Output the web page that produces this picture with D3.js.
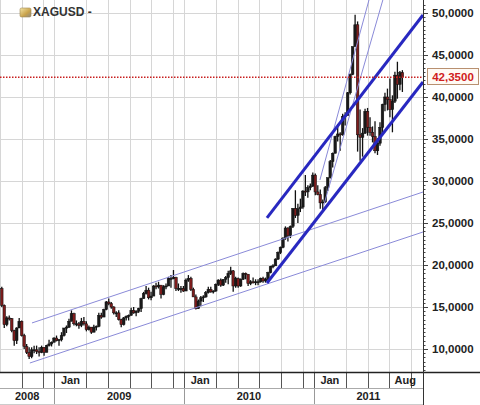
<!DOCTYPE html>
<html>
<head>
<meta charset="utf-8">
<script src="https://cdn.jsdelivr.net/npm/d3@7"></script>
<style>
  body { margin: 0; background: #fff; }
  text { font-family: Arial, 'Liberation Sans', sans-serif; font-weight: bold; }
</style>
</head>
<body>
<div id="chart"></div>
<script>
// weekly bars, first week starts Mon 4 Aug 2008
const firstWeek = new Date(2008, 7, 4);
const startOpen = 17.2;

const weekClose = [
  15.2, 12.9, 13.7, 13.6, 12.2, 11.0, 12.5, 13.3, 11.6, 10.3, 9.6, 9.1, 9.9, 9.9, 9.7, 9.6, 10.2, 9.6, 10.4, 10.6, 10.8, 11.3,
  11.0, 11.1, 11.6, 12.5, 12.6, 13.3, 14.2, 13.0, 13.0, 12.8, 13.3, 13.0, 12.3, 12.6, 12.0, 12.6, 12.7, 14.0, 13.8, 14.7,
  15.6, 15.4, 15.0, 14.3, 14.3, 13.5, 12.9, 13.7, 13.9, 14.0, 14.6, 14.3, 14.5, 14.8, 16.0, 16.6, 17.0, 16.1, 16.3, 17.5,
  17.4, 17.6, 16.5, 17.4, 17.5, 18.4, 18.4, 18.5, 17.2, 17.2, 17.2, 16.9,
  18.2, 18.4, 17.1, 16.2, 14.8, 15.7, 16.1, 16.2, 16.7, 17.1, 16.8, 16.9, 17.7, 18.2, 17.6, 18.3, 18.5, 19.0, 19.3, 17.5,
  18.4, 17.5, 18.3, 19.0, 18.9, 17.8, 18.0, 17.9, 18.0, 18.0, 18.4, 18.1, 18.3, 19.1, 19.8, 19.9, 20.7, 21.5, 22.1, 23.2,
  24.4, 23.5, 24.6, 26.7, 25.9, 26.7, 26.9, 28.8, 28.7, 29.2, 29.4, 30.7,
  28.7, 28.4, 27.4, 27.5, 29.2, 30.4, 32.3, 33.3, 35.3, 35.6, 35.5, 37.7, 37.8, 40.5, 42.7, 46.0, 48.6, 35.5, 35.2, 35.7,
  38.3, 36.4, 35.8, 35.3, 33.6, 34.5, 36.4, 39.1, 40.0, 39.7, 38.5, 39.5, 42.6, 41.5, 42.9, 42.35
];
const weekHigh = [
  17.4, 15.3, 13.9, 14.0, 13.7, 12.3, 12.6, 13.7, 13.4, 11.8, 10.6, 10.2, 10.2, 10.4, 10.4, 10.2, 10.4, 10.2, 10.5, 11.1, 10.9, 11.4,
  11.6, 11.2, 12.0, 12.5, 12.8, 13.6, 14.6, 14.3, 13.4, 13.2, 13.7, 13.8, 13.3, 12.8, 12.6, 12.9, 12.8, 14.3, 14.3, 14.8,
  15.7, 16.0, 15.6, 15.1, 14.5, 14.6, 13.6, 13.8, 14.0, 14.1, 14.9, 15.0, 14.6, 14.9, 16.1, 16.8, 17.5, 17.3, 16.8, 17.6,
  17.9, 18.0, 17.6, 17.6, 17.8, 18.6, 18.8, 19.4, 18.6, 17.8, 17.5, 17.5,
  18.4, 18.8, 18.6, 17.3, 16.5, 15.9, 16.3, 16.4, 16.9, 17.4, 17.4, 17.0, 17.8, 18.3, 18.4, 18.3, 18.7, 19.3, 19.8, 19.4,
  18.6, 18.5, 18.4, 19.1, 19.1, 18.9, 18.2, 18.5, 18.3, 18.3, 18.5, 18.6, 18.5, 19.2, 19.9, 20.1, 20.8, 21.6, 22.2, 23.3,
  24.6, 24.5, 24.7, 26.8, 28.9, 27.3, 27.9, 28.9, 30.7, 29.5, 29.7, 31.0,
  30.9, 29.5, 29.0, 27.8, 29.4, 30.4, 32.5, 33.4, 35.4, 36.8, 35.8, 38.0, 38.2, 40.6, 42.8, 46.0, 49.8, 49.0, 38.5, 36.3,
  38.6, 38.7, 37.6, 36.5, 37.1, 35.1, 37.0, 39.2, 40.5, 41.0, 42.2, 40.2, 43.0, 44.2, 43.1, 43.2
];
const weekLow = [
  15.0, 12.5, 12.7, 13.4, 12.0, 10.4, 10.6, 12.5, 11.5, 10.0, 9.4, 8.8, 8.9, 9.5, 9.4, 9.1, 9.5, 9.2, 9.6, 10.3, 10.3, 10.8,
  10.9, 10.4, 10.9, 11.5, 11.9, 12.5, 13.3, 12.8, 12.7, 12.4, 12.6, 12.8, 12.1, 12.2, 11.8, 12.0, 12.2, 12.6, 13.6, 13.8,
  14.6, 15.2, 14.8, 14.1, 13.8, 13.4, 12.6, 12.8, 13.4, 13.4, 14.0, 14.2, 13.9, 14.3, 14.4, 16.0, 16.5, 15.9, 15.8, 16.3,
  17.1, 17.2, 16.0, 16.4, 17.1, 17.5, 17.3, 18.3, 16.9, 16.9, 16.7, 16.8,
  16.9, 18.0, 16.9, 16.2, 14.7, 14.8, 15.1, 15.6, 16.1, 16.6, 16.7, 16.6, 16.8, 17.5, 17.4, 17.5, 17.9, 17.7, 18.8, 16.8,
  17.3, 17.3, 17.4, 18.2, 18.3, 17.5, 17.6, 17.8, 17.6, 17.6, 17.9, 17.9, 17.9, 18.2, 19.0, 19.6, 19.9, 20.6, 21.3, 22.0,
  23.0, 22.8, 23.2, 24.4, 25.6, 25.0, 26.3, 26.7, 28.2, 28.0, 28.9, 29.3,
  28.3, 28.3, 26.7, 26.4, 27.4, 28.8, 30.3, 31.6, 33.3, 34.7, 33.6, 35.4, 36.6, 37.8, 40.3, 42.6, 46.0, 33.5, 32.4, 32.9,
  35.6, 35.4, 35.4, 34.6, 33.3, 33.1, 34.2, 35.6, 38.3, 38.4, 37.6, 35.8, 39.3, 39.8, 40.8, 40.6
];

const lastPrice = 42.35;
const yTicks = [10, 15, 20, 25, 30, 35, 40, 45, 50];
const gridMonths = [0, 3, 5, 7, 9, 11];
const monthLabelDates = ['2009-01-01', '2010-01-01', '2011-01-01', '2011-08-01'];
const monthLabels = ['Jan', 'Jan', 'Jan', 'Aug'];
const yearLabels = ['2008', '2009', '2010', '2011'];

// trend lines: [start date, start price, end date, end price]
const thinChannel = [
  ['2008-10-24', 8.33, '2011-11-04', 23.93],
  ['2008-10-30', 13.1, '2011-11-04', 28.69]
];
const thickChannel = [
  ['2010-08-22', 17.86, '2011-11-04', 41.79],
  ['2010-08-22', 25.6, '2011-11-04', 49.76]
];
const steepLines = [
  ['2011-01-18', 30.12, '2011-06-05', 51.55],
  ['2011-01-29', 27.14, '2011-07-14', 51.55]
];

const width = 480;
const height = 405;
const plotW = 423;
const plotH = 372;

const parse = d3.timeParse('%Y-%m-%d');
const fmt = d3.format(',.4f');

const x = d3.scaleTime()
    .domain([new Date(2008, 7, 1), new Date(2011, 10, 4)])
    .range([0, plotW]);
const y = d3.scaleLinear()
    .domain([7.26, 51.55])
    .range([plotH, 0]);

const svg = d3.select('#chart')
    .append('svg')
    .attr('width', width)
    .attr('height', height);

svg.append('defs').append('clipPath')
    .attr('id', 'plot-clip')
    .append('rect')
    .attr('width', plotW)
    .attr('height', plotH);

// grid
const gridDates = d3.timeMonth.range(x.domain()[0], x.domain()[1])
    .filter((d) => gridMonths.includes(d.getMonth()));

svg.append('g')
    .selectAll('line')
    .data(gridDates)
    .enter()
    .append('line')
    .attr('x1', (d) => Math.round(x(d)) + 0.5)
    .attr('x2', (d) => Math.round(x(d)) + 0.5)
    .attr('y1', 0)
    .attr('y2', plotH)
    .attr('stroke', '#d6d6d6');

svg.append('g')
    .selectAll('line')
    .data(yTicks)
    .enter()
    .append('line')
    .attr('x1', 0)
    .attr('x2', plotW)
    .attr('y1', (d) => Math.round(y(d)) + 0.5)
    .attr('y2', (d) => Math.round(y(d)) + 0.5)
    .attr('stroke', '#d6d6d6');

// title
const icon = svg.append('defs').append('linearGradient')
    .attr('id', 'coin')
    .attr('x1', 0).attr('y1', 0).attr('x2', 1).attr('y2', 1);
icon.append('stop').attr('offset', '0%').attr('stop-color', '#f4e6a8');
icon.append('stop').attr('offset', '60%').attr('stop-color', '#c9a24a');
icon.append('stop').attr('offset', '100%').attr('stop-color', '#8a8a8a');

svg.append('rect')
    .attr('x', 20)
    .attr('y', 8)
    .attr('width', 11)
    .attr('height', 9)
    .attr('rx', 1.5)
    .attr('fill', 'url(#coin)')
    .attr('stroke', '#a08850')
    .attr('stroke-width', 0.6);

svg.append('text')
    .attr('x', 33)
    .attr('y', 16)
    .attr('font-size', 12)
    .attr('fill', '#333')
    .text('XAGUSD -');

// price bars
const plot = svg.append('g')
    .attr('clip-path', 'url(#plot-clip)');

const bars = weekClose.map((c, i) => ({
  date: d3.timeDay.offset(d3.timeMonday.offset(firstWeek, i), 2),
  open: i ? weekClose[i - 1] : startOpen,
  high: weekHigh[i],
  low: weekLow[i],
  close: c
}));

plot.append('g')
    .selectAll('line')
    .data(bars)
    .enter()
    .append('line')
    .attr('x1', (d) => x(d.date))
    .attr('x2', (d) => x(d.date))
    .attr('y1', (d) => y(d.high))
    .attr('y2', (d) => y(d.low))
    .attr('stroke', '#111')
    .attr('stroke-width', 1.3);

plot.append('g')
    .selectAll('rect')
    .data(bars)
    .enter()
    .append('rect')
    .attr('x', (d) => x(d.date) - 1.3)
    .attr('y', (d) => y(Math.max(d.open, d.close)))
    .attr('width', 2.6)
    .attr('height', (d) => Math.max(1, Math.abs(y(d.open) - y(d.close))))
    .attr('fill', (d) => d.close < d.open ? '#7e1c1c' : '#1a1a1a')
    .attr('stroke', '#111')
    .attr('stroke-width', 0.5);

// trend lines
const drawLines = (rows, color, w) => {
  plot.append('g')
      .selectAll('line')
      .data(rows)
      .enter()
      .append('line')
      .attr('x1', (d) => x(parse(d[0])))
      .attr('y1', (d) => y(d[1]))
      .attr('x2', (d) => x(parse(d[2])))
      .attr('y2', (d) => y(d[3]))
      .attr('stroke', color)
      .attr('stroke-width', w);
};
drawLines(thinChannel, '#8a8ad8', 1);
drawLines(steepLines, '#8a8ad8', 1);
drawLines(thickChannel, '#2828c0', 3);

// last price
plot.append('line')
    .attr('x1', 0)
    .attr('x2', plotW)
    .attr('y1', y(lastPrice))
    .attr('y2', y(lastPrice))
    .attr('stroke', '#c82020')
    .attr('stroke-width', 1.5)
    .attr('stroke-dasharray', '1.5,1.5');

svg.append('rect')
    .attr('x', 427.5)
    .attr('y', Math.round(y(lastPrice)) - 8.5)
    .attr('width', 51)
    .attr('height', 16)
    .attr('fill', '#fffaf4')
    .attr('stroke', '#b89070');

svg.append('text')
    .attr('x', 453)
    .attr('y', y(lastPrice))
    .attr('dy', '0.36em')
    .attr('text-anchor', 'middle')
    .attr('font-size', 11.5)
    .attr('fill', '#d02020')
    .text(fmt(lastPrice).replace('.', ','));

// y axis
svg.append('g')
    .selectAll('line')
    .data(d3.range(7.5, 51.5, 0.5))
    .enter()
    .append('line')
    .attr('x1', plotW)
    .attr('x2', (d) => plotW + (d % 5 === 0 ? 5 : 2.5))
    .attr('y1', (d) => Math.round(y(d)) + 0.5)
    .attr('y2', (d) => Math.round(y(d)) + 0.5)
    .attr('stroke', '#444');

svg.append('g')
    .selectAll('text')
    .data(yTicks)
    .enter()
    .append('text')
    .attr('x', 432)
    .attr('y', (d) => y(d))
    .attr('dy', '0.36em')
    .attr('font-size', 11.5)
    .attr('fill', '#222')
    .text((d) => fmt(d).replace('.', ','));

// x axis rows
const axis = svg.append('g');

axis.selectAll('.msep')
    .data(gridDates.filter((d) => x(d) > 1))
    .enter()
    .append('line')
    .attr('x1', (d) => Math.round(x(d)) + 0.5)
    .attr('x2', (d) => Math.round(x(d)) + 0.5)
    .attr('y1', plotH)
    .attr('y2', 388)
    .attr('stroke', '#555');

const yearStarts = d3.timeYear.range(x.domain()[0], x.domain()[1]);

axis.selectAll('.ysep')
    .data(yearStarts)
    .enter()
    .append('line')
    .attr('x1', (d) => Math.round(x(d)) + 0.5)
    .attr('x2', (d) => Math.round(x(d)) + 0.5)
    .attr('y1', 388)
    .attr('y2', 404)
    .attr('stroke', '#999');

axis.append('line')
    .attr('x1', 0).attr('x2', plotW)
    .attr('y1', 388.5).attr('y2', 388.5)
    .attr('stroke', '#aaa');

axis.append('line')
    .attr('x1', 0).attr('x2', plotW)
    .attr('y1', 404.5).attr('y2', 404.5)
    .attr('stroke', '#ccc');

axis.selectAll('.mlabel')
    .data(monthLabels)
    .enter()
    .append('text')
    .attr('x', (d, i) => x(d3.timeDay.offset(parse(monthLabelDates[i]), 45)))
    .attr('y', 384)
    .attr('text-anchor', 'middle')
    .attr('font-size', 11)
    .attr('fill', '#222')
    .text((d) => d);

const yearEdges = [x.domain()[0]].concat(yearStarts, [x.domain()[1]]);

axis.selectAll('.ylabel')
    .data(yearLabels)
    .enter()
    .append('text')
    .attr('x', (d, i) => (x(yearEdges[i]) + x(yearEdges[i + 1])) / 2)
    .attr('y', 400)
    .attr('text-anchor', 'middle')
    .attr('font-size', 11)
    .attr('fill', '#222')
    .text((d) => d);

// frame
svg.append('line')
    .attr('x1', 0).attr('x2', width)
    .attr('y1', plotH + 0.5).attr('y2', plotH + 0.5)
    .attr('stroke', '#222')
    .attr('stroke-width', 1.5);

svg.append('line')
    .attr('x1', plotW + 0.5).attr('x2', plotW + 0.5)
    .attr('y1', 0).attr('y2', height)
    .attr('stroke', '#333');
</script>
</body>
</html>
